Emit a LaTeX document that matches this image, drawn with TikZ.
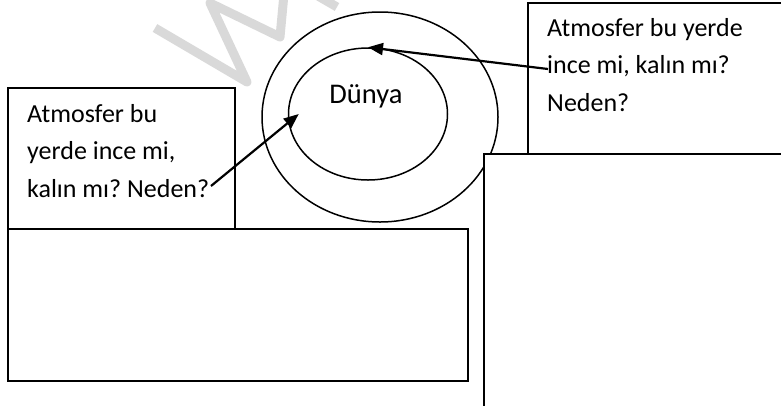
\documentclass[tikz,border=0pt]{standalone}
\usepackage{fontspec}
\setmainfont{Carlito}
\usetikzlibrary{arrows.meta, shapes.geometric}

\begin{document}
\begin{tikzpicture}[x=1pt, y=-1pt,
	box/.style={draw, line width=1.6pt, fill=white, inner sep=0, anchor=north west},
	ring/.style={draw, ellipse, line width=1.5pt, inner sep=0},
	txt/.style={font=\fontsize{26}{37.5}\selectfont, align=left, inner sep=0, anchor=north west},
	pointer/.style={line width=2.2pt, -{Triangle[length=15pt, width=12pt]}}]
	\frenchspacing
	
	\useasboundingbox (0,0) rectangle (781,405);
	
	% faint watermark
	\draw [line width=9pt, draw=black!15, line join=round] (155,28) -- (247,82) -- (210,3) -- (280,37) -- (284,-6);
	\draw [line width=9pt, draw=black!15] (318,-4) -- (337,7);
	
	\node [ring, minimum width=236pt, minimum height=210pt] (atmo) at (380,117) {};
	\node [ring, minimum width=159pt, minimum height=132pt] (earth) at (368,114) {};
	\node [font=\fontsize{28.5}{34}\selectfont, anchor=base] (earthname) at (366,103) {Dünya};
	
	\node [box, minimum width=227pt, minimum height=141pt] (leftbox) at (7,87) {};
	\node [box, minimum width=460pt, minimum height=152pt] (lowbox) at (7,228) {};
	\node [box, minimum width=300pt, minimum height=160pt] (rightbox) at (527,2) {};
	\node [box, minimum width=330pt, minimum height=280pt] (tallbox) at (483,153) {};
	
	\node [txt] (lefttext) at (27,104) {Atmosfer bu\\yerde ince mi,\\kalın mı? Neden?};
	\node [txt] (righttext) at (547,18) {Atmosfer bu yerde\\ince mi, kalın mı?\\Neden?};
	
	\coordinate (leftstart) at (211,186);
	\coordinate (rightstart) at (548,69);
	\draw [pointer] (leftstart) -- ([xshift=11pt]earth.west);
	\draw [pointer] (rightstart) -- (earth.north);
\end{tikzpicture}
\end{document}
